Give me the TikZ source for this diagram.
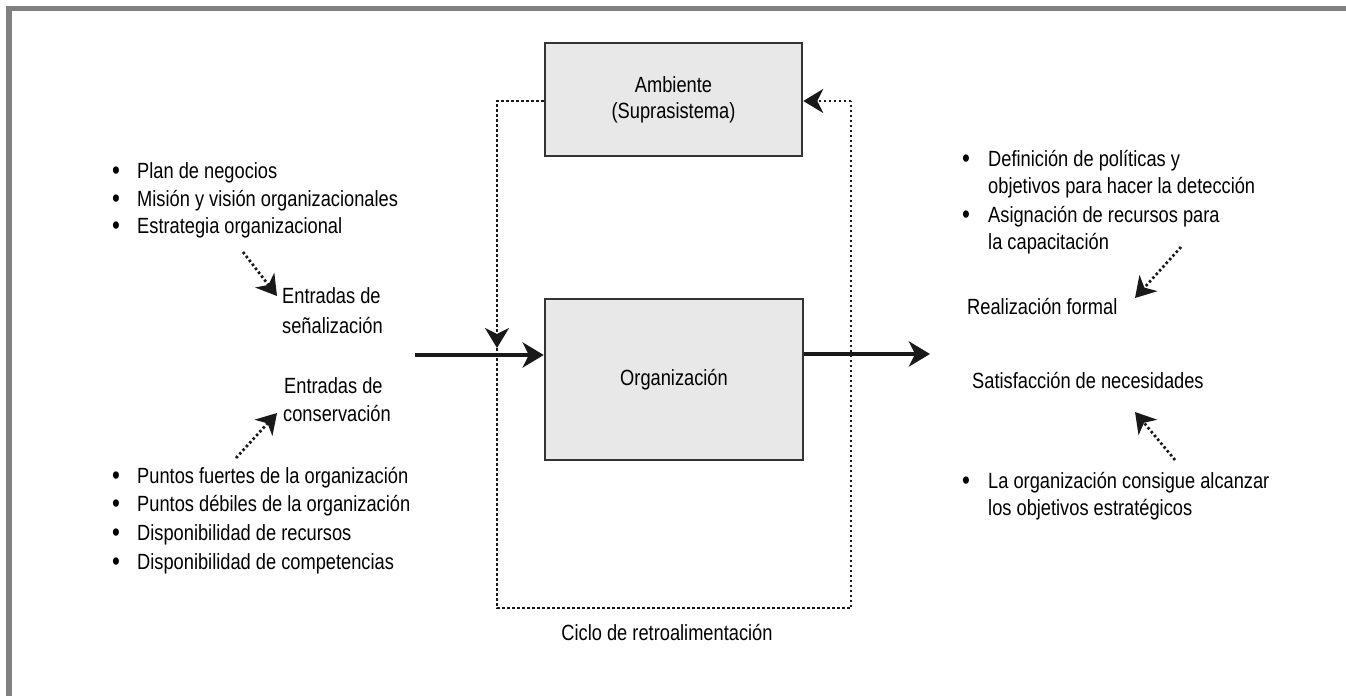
\documentclass[tikz,border=0pt]{standalone}
\usepackage{fontspec}
\setmainfont{Liberation Sans}[FakeStretch=0.83]
\usetikzlibrary{arrows.meta}

\newcommand\dgfont{\fontsize{22}{26}\selectfont}

\begin{document}
\begin{tikzpicture}[x=1pt,y=-1pt,
  txt/.style={anchor=base west, inner sep=0pt, font=\dgfont, text=black},
  ctxt/.style={anchor=base, inner sep=0pt, font=\dgfont, text=black},
  bul/.style={anchor=base, inner sep=0pt, font=\fontsize{27}{27}\selectfont, text=black},
  sysbox/.style={draw=black!80, line width=2.5pt, fill=black!9,
    inner sep=0pt, font=\dgfont, text=black, align=center},
  dotline/.style={line width=2.7pt, black!90, dash pattern=on 2.5pt off 2.5pt},
  dottip/.style={-{Stealth[length=20pt,width=24pt,inset=6pt]}},
  flow/.style={line width=4.5pt, black!90,
    -{Stealth[length=21pt,width=25pt,inset=6pt]}}
]
\useasboundingbox (0,0) rectangle (1346,696);

% frame
\draw[black!50, line width=5.5pt] (9,696) -- (9,8.5) -- (1346,8.5);

% system boxes
\node[sysbox, minimum width=257pt, minimum height=113pt] (amb) at (673.5,99.5)
  {Ambiente\\(Suprasistema)};
\node[sysbox, minimum width=258pt, minimum height=161pt] (org) at (674,379.5)
  {Organización};

% main flow
\coordinate (inS) at (415,355);
\coordinate (outE) at (930,354);
\draw[flow] (inS) -- (inS -| org.west);
\draw[flow] (org.east |- outE) -- (outE);

% feedback loop
\coordinate (fbTL) at (497,101);
\coordinate (fbArr) at (497,348);
\coordinate (fbBL) at (497,608);
\coordinate (fbBR) at (851,608);
\coordinate (fbTR) at (851,101);
\draw[dotline, dottip] (fbTL -| amb.west) -- (fbTL) -- (fbArr);
\draw[dotline] (fbArr) -- (fbBL) -- (fbBR) -- (fbTR);
\draw[dotline, dottip] (fbTR) -- (fbTR -| amb.east);
\node[ctxt] (ciclo) at (667,640) {Ciclo de retroalimentación};

% signalling inputs
\node[bul] (bs1) at (116,179) {\textbullet};
\node[bul] (bs2) at (116,207) {\textbullet};
\node[bul] (bs3) at (116,234) {\textbullet};
\node[txt] (s1) at (137,178) {Plan de negocios};
\node[txt] (s2) at (137,206) {Misión y visión organizacionales};
\node[txt] (s3) at (137,233) {Estrategia organizacional};
\node[txt] (sig1) at (282,303) {Entradas de};
\node[txt] (sig2) at (282,333) {señalización};
\coordinate (a1s) at (243,252);
\coordinate (a1e) at (277,296);
\draw[dotline, dottip] (a1s) -- (a1e);

% maintenance inputs
\node[txt] (con1) at (284,393) {Entradas de};
\node[txt] (con2) at (283,421) {conservación};
\coordinate (a2s) at (236,458);
\coordinate (a2e) at (277,413);
\draw[dotline, dottip] (a2s) -- (a2e);
\node[bul] (bc1) at (116,484) {\textbullet};
\node[bul] (bc2) at (116,512) {\textbullet};
\node[bul] (bc3) at (116,541) {\textbullet};
\node[bul] (bc4) at (116,570) {\textbullet};
\node[txt] (c1) at (137,483) {Puntos fuertes de la organización};
\node[txt] (c2) at (137,511) {Puntos débiles de la organización};
\node[txt] (c3) at (137,540) {Disponibilidad de recursos};
\node[txt] (c4) at (137,569) {Disponibilidad de competencias};

% outputs
\node[bul] (bo1) at (966,167) {\textbullet};
\node[txt] (o1) at (988,166) {Definición de políticas y};
\node[txt] (o2) at (988,193) {objetivos para hacer la detección};
\node[bul] (bo2) at (966,223) {\textbullet};
\node[txt] (o3) at (988,222) {Asignación de recursos para};
\node[txt] (o4) at (988,249) {la capacitación};
\coordinate (a3s) at (1181,247);
\coordinate (a3e) at (1135,298);
\draw[dotline, dottip] (a3s) -- (a3e);
\node[txt] (real) at (967,314) {Realización formal};
\node[txt] (sat) at (972,388) {Satisfacción de necesidades};
\coordinate (a4s) at (1175,460);
\coordinate (a4e) at (1135,412);
\draw[dotline, dottip] (a4s) -- (a4e);
\node[bul] (bo3) at (966,489) {\textbullet};
\node[txt] (o5) at (988,488) {La organización consigue alcanzar};
\node[txt] (o6) at (988,515) {los objetivos estratégicos};
\end{tikzpicture}
\end{document}
